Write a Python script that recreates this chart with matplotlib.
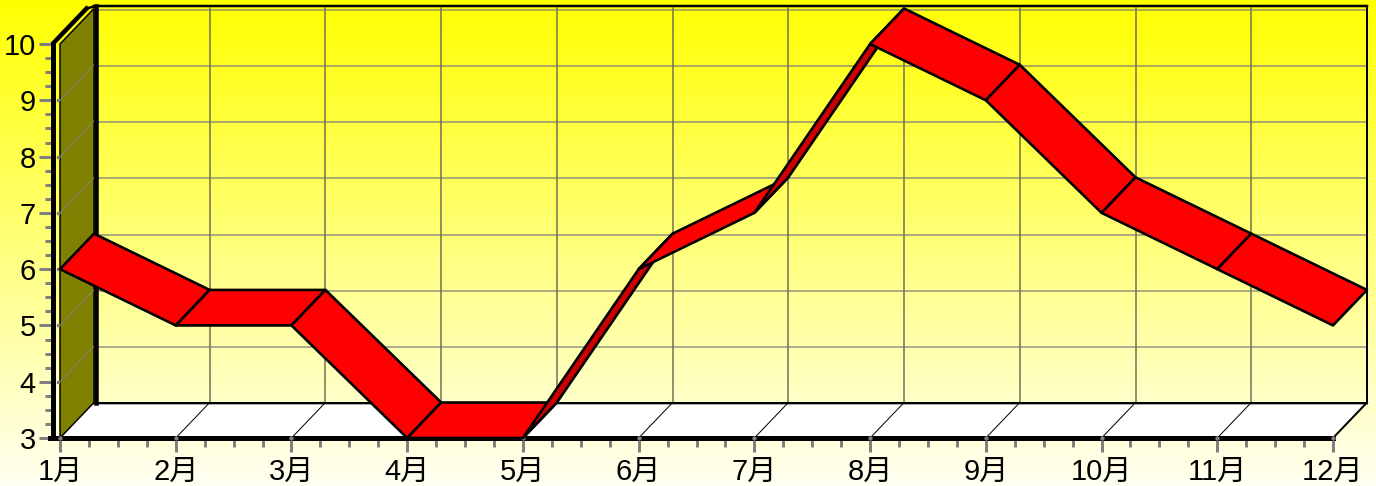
import numpy as np
import matplotlib
matplotlib.use('Agg')
import matplotlib.pyplot as plt

plt.rcParams['font.family'] = ['Liberation Sans', 'Noto Sans CJK SC']

# Datos
months = ['1月', '2月', '3月', '4月', '5月', '6月', '7月', '8月', '9月', '10月', '11月', '12月']
values = [6, 5, 5, 3, 3, 6, 7, 10, 9, 7, 6, 5]
y_ticks = [3, 4, 5, 6, 7, 8, 9, 10]

W, H = 1376, 486
px = 1 / 100  # pulgadas por pixel
pt = 72 / 100  # puntos por pixel

fig = plt.figure(figsize=(W * px, H * px), dpi=100)

# Fondo degradado de toda la figura
bg = fig.add_axes([0, 0, 1, 1], zorder=-1)
grad = np.zeros((256, 1, 3))
grad[:, :, 0] = 1
grad[:, :, 1] = 1
grad[:, :, 2] = np.linspace(0, 0.95, 256)[:, None]
bg.imshow(grad, aspect='auto', extent=[0, 1, 0, 1], origin='upper')
bg.axis('off')

# Ejes principales: mes 0 en x=60, mes 11 en x=1333; 3 en y=438, 10 en y=44
left, right, top, bottom = 60, 1333, 44, 438
ax = fig.add_axes([left / W, 1 - bottom / H, (right - left) / W, (bottom - top) / H])
ax.set_facecolor('none')
ax.set_xlim(0, len(months) - 1)
ax.set_ylim(y_ticks[0], y_ticks[-1])

xmax = len(months) - 1
ymin, ymax = y_ticks[0], y_ticks[-1]
ux = xmax / (right - left)  # unidades de x por pixel
uy = (ymax - ymin) / (bottom - top)  # unidades de y por pixel

# Profundidad del efecto 3D
dx = 34 * ux
dy = 35.5 * uy

# Suelo y pared izquierda
ax.fill([0, xmax, xmax + dx, dx], [ymin, ymin, ymin + dy, ymin + dy],
        color='white', lw=0, zorder=1, clip_on=False)
ax.fill([0, dx, dx, 0], [ymin, ymin + dy, ymax + dy, ymax],
        facecolor='#808000', edgecolor='black', lw=1.5 * pt, zorder=1.5, clip_on=False)

# Rejilla
for v in y_ticks:
    yb = v + dy
    ax.plot([dx, xmax + dx], [yb - 1 * uy, yb - 1 * uy], color='#808080', alpha=0.65, lw=2 * pt,
            zorder=1.2, clip_on=False)
    if v != ymin and v != ymax:
        ax.plot([0, dx], [v, yb], color='#808080', lw=1 * pt, zorder=1.6, clip_on=False)
        ax.plot([-2.5 * ux], [v], marker='s', ms=2.5 * pt, color='#808080', zorder=1.6, clip_on=False)
for i in range(1, len(months)):
    ax.plot([i + dx, i + dx], [ymin + dy, ymax + dy], color='#707050', lw=1.5 * pt, zorder=1.2, clip_on=False)
    if i < xmax:
        ax.plot([i, i + dx], [ymin, ymin + dy], color='black', lw=1 * pt, zorder=1.3, clip_on=False)

# Marco de la pared del fondo
ax.plot([dx + 1.5 * ux, dx + 1.5 * ux], [ymin + dy, ymax + dy + 2 * uy], color='black', lw=4.5 * pt,
        zorder=1.7, clip_on=False)
ax.plot([dx, xmax + dx], [ymax + dy + 2 * uy, ymax + dy + 2 * uy], color='black', lw=2.5 * pt, zorder=1.4, clip_on=False)
ax.plot([xmax + dx, xmax + dx], [ymin + dy, ymax + dy + 2 * uy], color='black', lw=2 * pt, zorder=1.4, clip_on=False)
ax.plot([dx, xmax + dx], [ymin + dy, ymin + dy], color='black', lw=2 * pt, zorder=1.4, clip_on=False)
ax.plot([xmax, xmax + dx], [ymin, ymin + dy], color='black', lw=2 * pt, zorder=1.4, clip_on=False)

# Borde superior de la pared izquierda
off = 7.5 * ux
ax.plot([-off, dx - off], [ymax, ymax + dy], color='black', lw=4.5 * pt, zorder=1.4, clip_on=False)
ax.plot([dx - off, dx], [ymax + dy, ymax + dy + 2 * uy], color='black', lw=2.5 * pt, zorder=1.4, clip_on=False)

# Cinta 3D
x = np.arange(len(values))
ratio = (1 / uy) / (1 / ux)
for i in range(len(values) - 1):
    slope = (values[i + 1] - values[i]) * ratio
    color = '#cc0000' if slope > 1 else '#ff0000'
    ax.fill([x[i], x[i + 1], x[i + 1] + dx, x[i] + dx],
            [values[i], values[i + 1], values[i + 1] + dy, values[i] + dy],
            facecolor=color, edgecolor='black', lw=2.6 * pt, joinstyle='round',
            zorder=3 + i * 0.01, clip_on=False)

# Ejes
for s in ['top', 'right']:
    ax.spines[s].set_visible(False)
ax.spines['left'].set_position(('outward', 7.5 * pt))
ax.spines['left'].set_linewidth(5 * pt)
ax.spines['bottom'].set_linewidth(5 * pt)
ax.spines['bottom'].set_bounds(-10 * ux, xmax)

# Puntitos grises sobre el eje inferior
ax.plot(x[x != 3], [ymin] * (len(x) - 1), ls='none', marker='o', ms=3 * pt, color='#808080',
        zorder=2.7, clip_on=False)

ax.set_xticks(x)
ax.set_xticklabels(months, fontsize=21)
ax.set_xticks(np.arange(0, xmax + 0.01, 0.25), minor=True)
ax.set_yticks(y_ticks)
ax.set_yticklabels([str(v) for v in y_ticks], fontsize=21)
ax.set_yticks(np.arange(ymin, ymax + 0.01, 0.25), minor=True)
ax.tick_params(axis='x', which='major', length=14 * pt, width=3 * pt, color='#808080', pad=4.5)
ax.tick_params(axis='x', which='minor', length=9 * pt, width=3 * pt, color='#808080')
ax.tick_params(axis='y', which='major', length=14.5 * pt, width=3 * pt, color='#808080', pad=1.5)
ax.tick_params(axis='y', which='minor', length=8.5 * pt, width=3 * pt, color='#808080')

fig.savefig('out.png', dpi=100)
